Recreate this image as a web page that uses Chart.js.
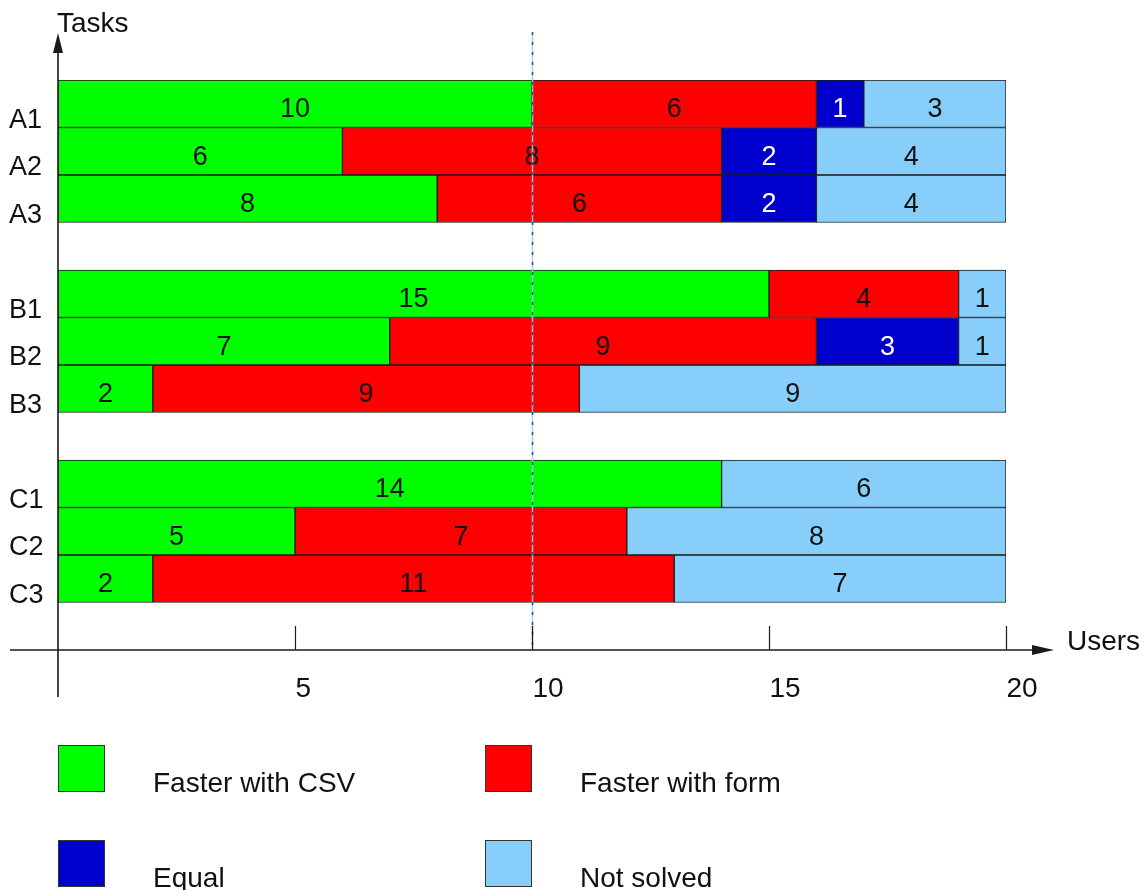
<!DOCTYPE html>
<html>
<head>
<meta charset="utf-8">
<script src="https://cdn.jsdelivr.net/npm/chart.js@4/dist/chart.umd.min.js"></script>
<style>
  html, body { margin: 0; padding: 0; background: #ffffff; }
  canvas { display: block; }
</style>
</head>
<body>
<canvas id="chart" width="1143" height="890"></canvas>
<script>
// Task rows (blank entries separate the A, B and C groups)
const tasks = ['A1', 'A2', 'A3', '', 'B1', 'B2', 'B3', '', 'C1', 'C2', 'C3', ''];

// Number of users per outcome and task
const fasterWithCsv  = [10, 6, 8, null, 15, 7, 2, null, 14, 5, 2, null];
const fasterWithForm = [6, 8, 6, null, 4, 9, 9, null, 0, 7, 11, null];
const equalTime      = [1, 2, 2, null, 0, 3, 0, null, 0, 0, 0, null];
const notSolved      = [3, 4, 4, null, 1, 1, 9, null, 6, 8, 7, null];

// Axis ticks along the Users axis
const userTicks = [5, 10, 15, 20];
const userMax = 20;
const referenceUsers = 10;

const seriesNames  = ['Faster with CSV', 'Faster with form', 'Equal', 'Not solved'];
const seriesValues = [fasterWithCsv, fasterWithForm, equalTime, notSolved];
const seriesColors = ['#00ff00', '#ff0000', '#0000cc', '#87cefa'];
const labelColors  = ['#111111', '#111111', '#ffffff', '#111111'];

const FONT = '"Liberation Sans", Arial, Helvetica, sans-serif';
const INK = '#1a1a1a';

const datasets = seriesValues.map((vals, i) => ({
  label: seriesNames[i],
  data: vals.map(v => (v ? v : null)),
  backgroundColor: seriesColors[i],
  borderColor: INK,
  borderWidth: 1,
  borderSkipped: false,
  barPercentage: 1,
  categoryPercentage: 1
}));

// Draws the numbers inside the bar segments
const segmentLabels = {
  id: 'segmentLabels',
  afterDatasetsDraw(chart) {
    const ctx = chart.ctx;
    ctx.save();
    ctx.font = '27px ' + FONT;
    ctx.textAlign = 'center';
    ctx.textBaseline = 'alphabetic';
    chart.data.datasets.forEach((ds, i) => {
      const meta = chart.getDatasetMeta(i);
      meta.data.forEach((el, j) => {
        const v = ds.data[j];
        if (!v) return;
        ctx.fillStyle = labelColors[i];
        ctx.fillText(String(v), (el.x + el.base) / 2, el.y + 13.5);
      });
    });
    ctx.restore();
  }
};

// Arrowed axes, tick marks, task names, reference line and legend
const axesAndLegend = {
  id: 'axesAndLegend',
  afterDraw(chart) {
    const ctx = chart.ctx;
    const xs = chart.scales.x;
    const ys = chart.scales.y;
    const area = chart.chartArea;
    const x0 = xs.getPixelForValue(0);
    const yAxis = area.bottom;
    const rowH = (ys.getPixelForValue(1) - ys.getPixelForValue(0));

    ctx.save();

    // reference line at 10 users
    const xr = Math.round(xs.getPixelForValue(referenceUsers)) + 0.5;
    ctx.beginPath();
    ctx.moveTo(xr, 32);
    ctx.lineTo(xr, yAxis);
    ctx.strokeStyle = 'rgba(150,205,245,0.9)';
    ctx.lineWidth = 1.5;
    ctx.stroke();
    ctx.beginPath();
    ctx.setLineDash([3, 7]);
    ctx.moveTo(xr, 32);
    ctx.lineTo(xr, yAxis);
    ctx.strokeStyle = '#3c4c60';
    ctx.lineWidth = 1.5;
    ctx.stroke();
    ctx.setLineDash([]);

    ctx.strokeStyle = INK;
    ctx.fillStyle = INK;

    // vertical axis with arrow
    ctx.lineWidth = 1.6;
    ctx.beginPath();
    ctx.moveTo(x0, 697);
    ctx.lineTo(x0, 50);
    ctx.stroke();
    ctx.beginPath();
    ctx.moveTo(x0, 33);
    ctx.lineTo(x0 - 5, 53);
    ctx.lineTo(x0 + 5, 53);
    ctx.closePath();
    ctx.fill();

    // horizontal axis with arrow
    ctx.beginPath();
    ctx.moveTo(10, yAxis);
    ctx.lineTo(1036, yAxis);
    ctx.stroke();
    ctx.beginPath();
    ctx.moveTo(1054, yAxis);
    ctx.lineTo(1032, yAxis - 5);
    ctx.lineTo(1032, yAxis + 5);
    ctx.closePath();
    ctx.fill();

    // tick marks and labels
    ctx.lineWidth = 1.2;
    ctx.font = '28px ' + FONT;
    ctx.textBaseline = 'alphabetic';
    ctx.textAlign = 'left';
    userTicks.forEach(t => {
      const px = Math.round(xs.getPixelForValue(t)) + 0.5;
      ctx.beginPath();
      ctx.moveTo(px, yAxis - 24);
      ctx.lineTo(px, yAxis);
      ctx.stroke();
      ctx.fillStyle = '#111111';
      ctx.fillText(String(t), px, 697);
    });

    // axis titles
    ctx.fillText('Tasks', 57, 32);
    ctx.fillText('Users', 1067, 650);

    // task names, sitting on the bottom edge of each row
    ctx.font = '27px ' + FONT;
    tasks.forEach((name, j) => {
      if (!name) return;
      ctx.fillText(name, 9, ys.getPixelForValue(j) + rowH / 2);
    });

    // legend: two columns, two rows
    const cols = [58, 485];
    const rows = [745, 840];
    ctx.font = '28px ' + FONT;
    seriesNames.forEach((name, i) => {
      const lx = cols[i % 2];
      const ly = rows[Math.floor(i / 2)];
      ctx.fillStyle = seriesColors[i];
      ctx.fillRect(lx, ly, 47, 47);
      ctx.strokeStyle = '#333333';
      ctx.lineWidth = 1;
      ctx.strokeRect(lx + 0.5, ly + 0.5, 46, 46);
      ctx.fillStyle = '#111111';
      ctx.fillText(name, lx + 95, ly + 47);
    });

    ctx.restore();
  }
};

new Chart(document.getElementById('chart'), {
  type: 'bar',
  data: { labels: tasks, datasets },
  options: {
    indexAxis: 'y',
    responsive: false,
    animation: false,
    layout: { padding: { left: 58, right: 137, top: 80, bottom: 240 } },
    scales: {
      x: { type: 'linear', stacked: true, min: 0, max: userMax, display: false },
      y: { stacked: true, offset: true, display: false }
    },
    plugins: {
      legend: { display: false },
      tooltip: { enabled: false }
    }
  },
  plugins: [segmentLabels, axesAndLegend]
});
</script>
</body>
</html>
